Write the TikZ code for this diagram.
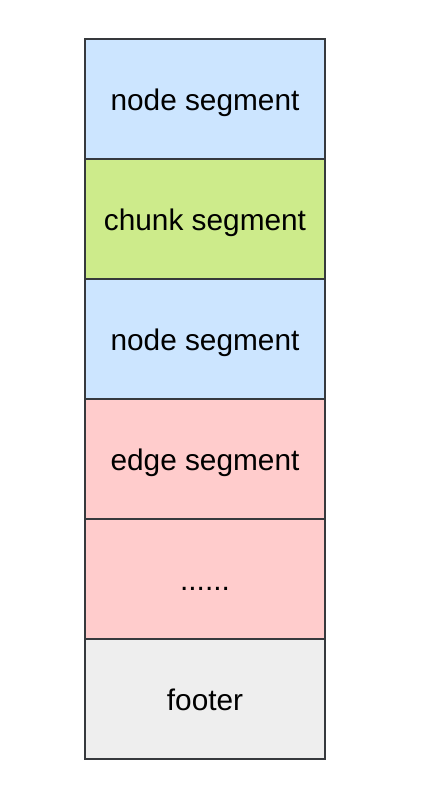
\documentclass[tikz,border=0pt]{standalone}
\usepackage{fontspec}
\setmainfont{Liberation Sans}
\usetikzlibrary{positioning}
\definecolor{segline}{HTML}{36393D}
\definecolor{nodeblue}{HTML}{CCE5FF}
\definecolor{chunkgreen}{HTML}{CDEB8B}
\definecolor{edgered}{HTML}{FFCCCC}
\definecolor{footergrey}{HTML}{EEEEEE}
\begin{document}
\begin{tikzpicture}[x=1pt,y=1pt,
segment/.style={rectangle, draw=segline, line width=2pt, minimum width=240pt, minimum height=120pt, outer sep=0pt, inner sep=0pt, text height=26pt, text depth=3pt, font=\fontsize{29.8}{34}\selectfont},
bluesquarednode/.style={segment, fill=nodeblue},
greensquarednode/.style={segment, fill=chunkgreen},
redsquarednode/.style={segment, fill=edgered},
greysquarednode/.style={segment, fill=footergrey}
]
\useasboundingbox (0,0) rectangle (424,-798);
%Nodes
\node[bluesquarednode] at (205,-99) (NODE-1) {node segment};
\node[greensquarednode, below=0pt of NODE-1] (CHUNK) {chunk segment};
\node[bluesquarednode, below=0pt of CHUNK] (NODE-2) {node segment};
\node[redsquarednode, below=0pt of NODE-2] (EDGE-1) {edge segment};
\node[redsquarednode, below=0pt of EDGE-1] (EDGE-2) {......};
\node[greysquarednode, below=0pt of EDGE-2] (FOOTER) {footer};
\end{tikzpicture}
\end{document}
